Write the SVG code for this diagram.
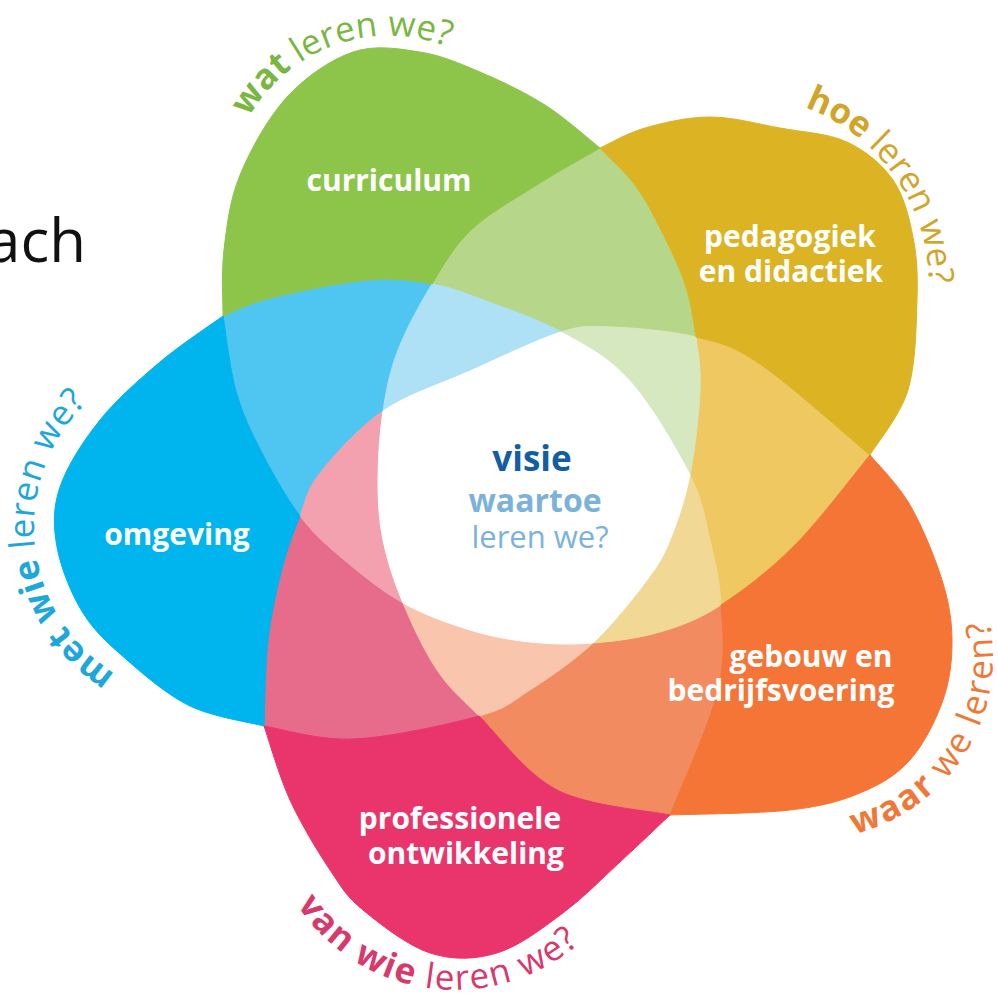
<svg xmlns="http://www.w3.org/2000/svg" width="998" height="997" viewBox="0 0 998 997">
<style>
.lbl{font-family:"Open Sans","Liberation Sans",sans-serif;font-weight:700;font-size:30px;fill:#fff;text-anchor:middle}
.ring{font-family:"Open Sans","Liberation Sans",sans-serif;font-size:35px;font-weight:400}
.reg{stroke-width:1;stroke-linejoin:round}
.ctr{font-family:"Open Sans","Liberation Sans",sans-serif;text-anchor:middle}
</style>
<defs>
<path id="pWat" d="M 230.4 169 A 161 161 0 0 1 550 197"/>
<path id="pHoe" d="M 740 96 A 189 189 0 0 1 903.7 379.5"/>
<path id="pMet" d="M 147.8 689.6 A 173 173 0 0 1 147.8 364.4"/>
<path id="pWaar" d="M 811 839 A 182 182 0 0 0 968.6 566"/>
<path id="pVan" d="M 277.4 865.6 A 189 189 0 0 0 632.6 865.6"/>
</defs>
<rect width="998" height="997" fill="#fff"/>
<text x="86" y="262" font-family="Open Sans, Liberation Sans, sans-serif" font-size="60" fill="#111" text-anchor="end">ach</text>

<g id="overlaps">
<path class="reg" fill="#4ec6f1" stroke="#4ec6f1" d="M 223 316 C 231 313 246.8 304 271 298 C 295.2 292 341.2 282.3 368 280 C 394.8 277.7 412.3 280.5 432 284 C 419.8 304 406.2 328.8 398 350 C 389.8 371.2 386.3 389.3 383 411 C 358 428 333.8 455.5 320 473 C 306.2 490.5 306.3 500 300 516 C 286.3 498 271.7 471.8 261 451 C 250.3 430.2 242.3 413.5 236 391 C 229.7 368.5 225.2 328.5 223 316 Z"/>
<path class="reg" fill="#b6d78a" stroke="#b6d78a" d="M 600 148 C 605.8 154.2 624.8 171.3 635 185 C 645.2 198.7 652.7 213.5 661 230 C 669.3 246.5 679.2 266.2 685 284 C 690.8 301.8 693.5 319.2 696 337 C 671.2 330.8 633.5 327.8 611 327 C 588.5 326.2 584.5 324.7 561 332 C 537.2 318.8 507.5 309 486 301 C 464.5 293 451.7 287.5 432 284 C 444.2 264 453.8 246.3 471 230 C 488.2 213.7 513.5 199.7 535 186 C 556.5 172.3 589.2 154.3 600 148 Z"/>
<path class="reg" fill="#efc862" stroke="#efc862" d="M 870 455 C 857.5 470 819.8 520 795 545 C 770.2 570 743.5 590.5 721 605 C 719.7 580 715.2 561.7 710 540 C 704.8 518.3 703.5 501.7 690 475 C 695 450.2 699 414 700 391 C 701 368 698.5 354.8 696 337 C 720.8 343.2 731 344.3 760 364 C 789 383.7 851.7 439.8 870 455 Z"/>
<path class="reg" fill="#f28c60" stroke="#f28c60" d="M 670 815 C 651.2 810.8 588.8 806.5 557 790 C 525.2 773.5 499 736 479 716 C 508.3 707.8 511 702.2 530 690 C 549 677.8 573.5 661.3 593 643 C 614.7 641.3 638.7 638.3 660 632 C 681.3 625.7 698.5 619.5 721 605 C 722.3 630 726.5 655 718 690 C 709.5 725 678 794.2 670 815 Z"/>
<path class="reg" fill="#e76b8b" stroke="#e76b8b" d="M 264 726 C 279 728.2 318.2 740.7 354 739 C 389.8 737.3 449.7 724.2 479 716 C 459 696 449.7 688.8 437 670 C 424.3 651.2 412 624.7 403 603 C 381.8 591.2 360.2 573.5 343 559 C 325.8 544.5 313.7 534 300 516 C 293.7 532 287.3 548.2 282 569 C 276.7 589.8 271 614.8 268 641 C 265 667.2 264.7 711.8 264 726 Z"/>
<path class="reg" fill="#aee0f6" stroke="#aee0f6" d="M 432 284 C 451.7 287.5 464.5 293 486 301 C 507.5 309 537.2 318.8 561 332 C 537.5 339.3 499.7 357.8 470 371 C 440.3 384.2 408 394 383 411 C 386.3 389.3 389.8 371.2 398 350 C 406.2 328.8 419.8 304 432 284 Z"/>
<path class="reg" fill="#d6e8bf" stroke="#d6e8bf" d="M 696 337 C 698.5 354.8 701 368 700 391 C 699 414 695 450.2 690 475 C 676.5 448.3 650.5 403.8 629 380 C 607.5 356.2 584.8 345.2 561 332 C 584.5 324.7 588.5 326.2 611 327 C 633.5 327.8 671.2 330.8 696 337 Z"/>
<path class="reg" fill="#f1d894" stroke="#f1d894" d="M 690 475 C 703.5 501.7 704.8 518.3 710 540 C 715.2 561.7 719.7 580 721 605 C 698.5 619.5 681.3 625.7 660 632 C 638.7 638.3 614.7 641.3 593 643 C 612.5 624.7 634.2 597.2 647 580 C 659.8 562.8 662.8 557.5 670 540 C 677.2 522.5 685 499.8 690 475 Z"/>
<path class="reg" fill="#f9c5ac" stroke="#f9c5ac" d="M 593 643 C 573.5 661.3 549 677.8 530 690 C 511 702.2 508.3 707.8 479 716 C 459 696 449.7 688.8 437 670 C 424.3 651.2 412 624.7 403 603 C 424.2 614.8 448.8 623.5 470 630 C 491.2 636.5 509.5 639.8 530 642 C 550.5 644.2 571.3 644.7 593 643 Z"/>
<path class="reg" fill="#f3a1ae" stroke="#f3a1ae" d="M 300 516 C 313.7 534 325.8 544.5 343 559 C 360.2 573.5 381.8 591.2 403 603 C 394 581.3 387.2 560.5 383 540 C 378.8 519.5 378 501.5 378 480 C 378 458.5 379.7 432.7 383 411 C 358 428 333.8 455.5 320 473 C 306.2 490.5 306.3 500 300 516 Z"/>
</g>

<g id="curriculum">
<path class="reg" fill="#8cc54a" stroke="#8cc54a" d="M 223 316 C 223.2 305 221.2 273.5 224 250 C 226.8 226.5 229.5 200.5 240 175 C 250.5 149.5 268.2 117.5 287 97 C 305.8 76.5 330.8 59.5 353 52 C 375.2 44.5 398.8 48.7 420 52 C 441.2 55.3 459.2 63.2 480 72 C 500.8 80.8 525 92.3 545 105 C 565 117.7 590.8 140.8 600 148 C 589.2 154.3 556.5 172.3 535 186 C 513.5 199.7 488.2 213.7 471 230 C 453.8 246.3 444.2 264 432 284 C 412.3 280.5 394.8 277.7 368 280 C 341.2 282.3 295.2 292 271 298 C 246.8 304 231 313 223 316 Z"/>
<text class="lbl" x="389" y="191">curriculum</text>
<text class="ring" fill="#7ab742"><textPath href="#pWat" startOffset="55"><tspan font-weight="700">wat</tspan> leren we?</textPath></text>
</g>

<g id="pedagogiek">
<path class="reg" fill="#dcb323" stroke="#dcb323" d="M 600 148 C 607.5 144.7 626.7 133.2 645 128 C 663.3 122.8 687.5 117 710 117 C 732.5 117 757.2 123.8 780 128 C 802.8 132.2 828.2 133.3 847 142 C 865.8 150.7 882 164.2 893 180 C 904 195.8 909 217 913 237 C 917 257 917.8 274.5 917 300 C 916.2 325.5 915.8 364.2 908 390 C 900.2 415.8 876.3 444.2 870 455 C 851.7 439.8 789 383.7 760 364 C 731 344.3 720.8 343.2 696 337 C 693.5 319.2 690.8 301.8 685 284 C 679.2 266.2 669.3 246.5 661 230 C 652.7 213.5 645.2 198.7 635 185 C 624.8 171.3 605.8 154.2 600 148 Z"/>
<text class="lbl" x="790" y="247">pedagogiek</text>
<text class="lbl" x="791" y="282">en didactiek</text>
<text class="ring" fill="#d0a52a"><textPath href="#pHoe" startOffset="66"><tspan font-weight="700">hoe</tspan> leren we?</textPath></text>
</g>

<g id="gebouw">
<path class="reg" fill="#f47536" stroke="#f47536" d="M 870 455 C 876.7 463.3 898 484.2 910 505 C 922 525.8 935 557.5 942 580 C 949 602.5 951.8 620 952 640 C 952.2 660 950 680 943 700 C 936 720 923.8 744.5 910 760 C 896.2 775.5 880 784.7 860 793 C 840 801.3 821.7 806.3 790 810 C 758.3 813.7 690 814.2 670 815 C 678 794.2 709.5 725 718 690 C 726.5 655 722.3 630 721 605 C 743.5 590.5 770.2 570 795 545 C 819.8 520 857.5 470 870 455 Z"/>
<text class="lbl" x="811" y="667">gebouw en</text>
<text class="lbl" x="781" y="701">bedrijfsvoering</text>
<text class="ring" fill="#f07836" font-size="36" letter-spacing="2"><textPath href="#pWaar" startOffset="44"><tspan font-weight="700">waar</tspan> we leren?</textPath></text>
</g>

<g id="professionele">
<path class="reg" fill="#e9356b" stroke="#e9356b" d="M 670 815 C 661.7 822.8 637.8 845.7 620 862 C 602.2 878.3 583.5 897.8 563 913 C 542.5 928.2 519.2 946.3 497 953 C 474.8 959.7 452.3 960.2 430 953 C 407.7 945.8 379.7 923.8 363 910 C 346.3 896.2 342.2 888.3 330 870 C 317.8 851.7 301 824 290 800 C 279 776 268.3 738.3 264 726 C 279 728.2 318.2 740.7 354 739 C 389.8 737.3 449.7 724.2 479 716 C 499 736 525.2 773.5 557 790 C 588.8 806.5 651.2 810.8 670 815 Z"/>
<text class="lbl" x="460" y="829">professionele</text>
<text class="lbl" x="466" y="864">ontwikkeling</text>
<text class="ring" fill="#d8396c" letter-spacing="1.5"><textPath href="#pVan" startOffset="44"><tspan font-weight="700">van wie</tspan> leren we?</textPath></text>
</g>

<g id="omgeving">
<path class="reg" fill="#00b4ed" stroke="#00b4ed" d="M 264 726 C 251.7 722.7 212.8 717 190 706 C 167.2 695 144.8 675.5 127 660 C 109.2 644.5 94.7 631.8 83 613 C 71.3 594.2 60.8 568 57 547 C 53.2 526 52.8 508.2 60 487 C 67.2 465.8 83.3 440.8 100 420 C 116.7 399.2 139.5 379.3 160 362 C 180.5 344.7 212.5 323.7 223 316 C 225.2 328.5 229.7 368.5 236 391 C 242.3 413.5 250.3 430.2 261 451 C 271.7 471.8 286.3 498 300 516 C 293.7 532 287.3 548.2 282 569 C 276.7 589.8 271 614.8 268 641 C 265 667.2 264.7 711.8 264 726 Z"/>
<text class="lbl" x="177" y="545">omgeving</text>
<text class="ring" fill="#1ea7da" letter-spacing="0.6"><textPath href="#pMet" startOffset="36"><tspan font-weight="700">met wie</tspan> leren we?</textPath></text>
</g>

<g id="visie">
<path class="reg" fill="#ffffff" stroke="#ffffff" d="M 561 332 C 584.8 345.2 607.5 356.2 629 380 C 650.5 403.8 676.5 448.3 690 475 C 685 499.8 677.2 522.5 670 540 C 662.8 557.5 659.8 562.8 647 580 C 634.2 597.2 612.5 624.7 593 643 C 571.3 644.7 550.5 644.2 530 642 C 509.5 639.8 491.2 636.5 470 630 C 448.8 623.5 424.2 614.8 403 603 C 394 581.3 387.2 560.5 383 540 C 378.8 519.5 378 501.5 378 480 C 378 458.5 379.7 432.7 383 411 C 408 394 440.3 384.2 470 371 C 499.7 357.8 537.5 339.3 561 332 Z"/>
<text class="ctr" x="532" y="471" font-weight="700" font-size="35" fill="#135ea2">visie</text>
<text class="ctr" x="535" y="512" font-weight="700" font-size="32" fill="#7cb2da">waartoe</text>
<text class="ctr" x="540" y="548" font-weight="400" font-size="31" fill="#7cb2da">leren we?</text>
</g>
</svg>
